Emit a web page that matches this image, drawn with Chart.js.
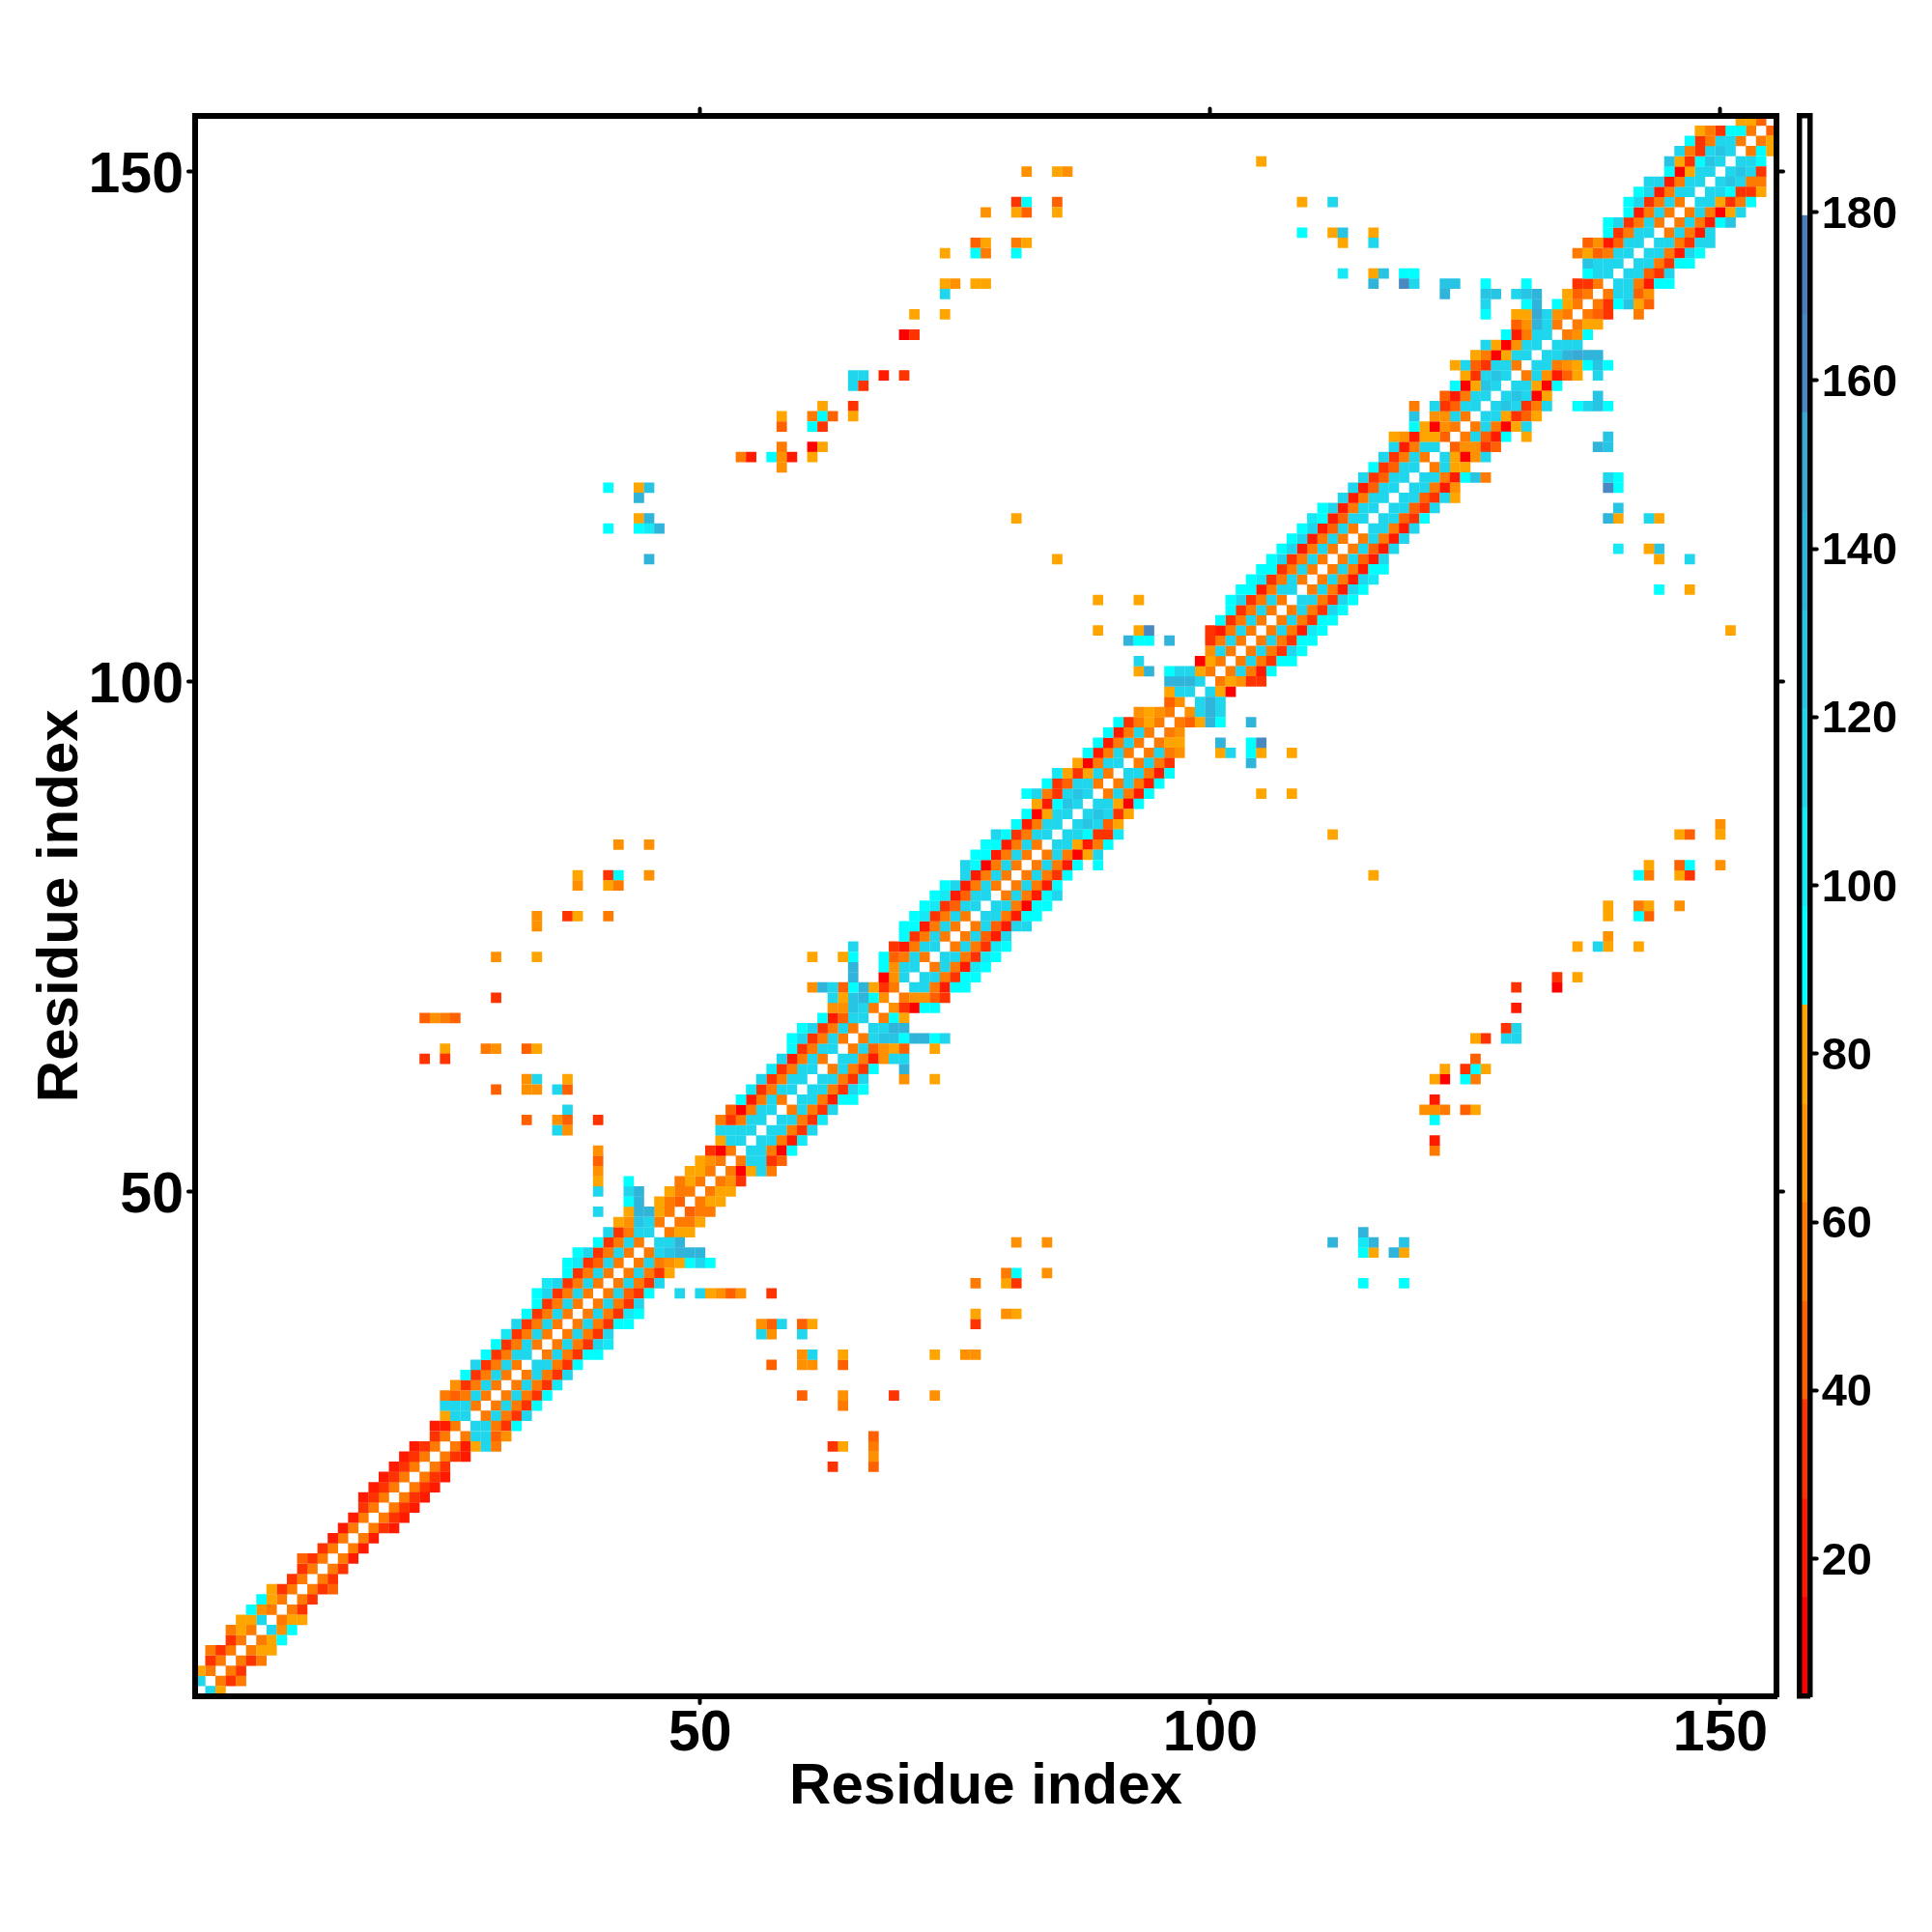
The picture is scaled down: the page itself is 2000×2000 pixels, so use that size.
<!DOCTYPE html>
<html>
<head>
<meta charset="utf-8">
<script src="https://cdn.jsdelivr.net/npm/chart.js@4/dist/chart.umd.min.js"></script>
<style>
    html, body { margin: 0; padding: 0; background: #fff; }
    canvas { position: absolute; left: 0; top: 0; }
</style>
</head>
<body>
<canvas id="mapChart" width="2000" height="2000"></canvas>
<canvas id="barChart" width="2000" height="2000"></canvas>
<script>
// colour levels
const levelEdges = [3.65, 15.4, 27.1, 38.9, 50.6, 62.3, 74, 85.8, 97.5, 109.3, 121, 132.7, 144.4, 156.2, 167.9, 179.6, 191.5];
const levelColors = ['#ff0000', '#ff1a00', '#ff3300', '#ff6000', '#ff7a00', '#ff9000', '#ffa500', '#00ffff',
    '#14e9f5', '#20d6ec', '#28c4e4', '#30b4da', '#38a9d3', '#4a88c2', '#4a7ebb', '#ffffff'];

const mapTicks = [50, 100, 150];
const barTicks = [20, 40, 60, 80, 100, 120, 140, 160, 180];
const axisTitle = 'Residue index';
const numResidues = 155;

// value of (i, i+1), index 0 is residue 1
const sep1 = [
    115, 56, 56, 56, 56, 56, 115, 56, 56, 56,
    56, 56, 56, 56, 56, 56, 56, 56, 56, 56,
    56, 56, 56, 56, 56, 56, 115, 56, 56, 56,
    56, 56, 115, 56, 56, 56, 56, 56, 56, 56,
    56, 56, 56, 56, 115, 56, 56, 45, 56, 56,
    56, 56, 56, 115, 115, 115, 115, 56, 115, 115,
    115, 56, 115, 56, 56, 115, 56, 68, 56, 115,
    115, 56, 115, 56, 56, 56, 115, 115, 56, 56,
    56, 56, 56, 115, 115, 115, 115, 115, 56, 56,
    115, 56, 56, 56, 56, 56, 68, 115, 115, 56,
    56, 56, 56, 56, 56, 56, 56, 115, 56, 56,
    56, 56, 56, 56, 115, 115, 115, 115, 115, 115,
    56, 115, 45, 56, 56, 115, 115, 115, 115, 56,
    115, 115, 115, 56, 56, 56, 56, 56, 115, 115,
    115, 115, 115, 56, 56, 56, 115, 115, 115, 115,
    115, 56, 56, 45];

// value of (i, i+2)
const sep2 = [
    80, 33, 33, 33, 80, 80, 68, 80, 33, 33,
    33, 33, 33, 21, 21, 21, 33, 33, 33, 33,
    33, 33, 33, 33, 21, 115, 115, 115, 115, 115,
    115, 115, 115, 115, 115, 115, 115, 115, 115, 115,
    115, 115, 115, 115, 115, 80, 56, 56, 80, 80,
    68, 10, 115, 115, 115, 115, 115, 115, 115, 115,
    115, 115, 115, 115, 115, 115, 92, 33, 68, 115,
    115, 115, 115, 115, 115, 115, 115, 115, 115, 115,
    115, 115, 115, 115, 115, 127, 127, 115, 115, 115,
    115, 115, 115, 80, 68, 45, 115, 138, 80, 80,
    115, 115, 115, 115, 115, 115, 115, 115, 115, 115,
    115, 115, 115, 115, 115, 115, 115, 115, 115, 115,
    115, 80, 68, 115, 115, 115, 127, 127, 115, 115,
    115, 115, 115, 68, 80, 45, 33, 115, 115, 115,
    115, 115, 115, 115, 115, 115, 115, 115, 127, 127,
    115, 92, 80];

// value of (i, i+3)
const sep3 = [
    null, 56, null, 56, 80, 92, 92, 80, null, null,
    45, null, null, null, null, null, 21, 21, 21, 21,
    21, 21, null, 21, 80, 115, 56, 56, 56, 56,
    56, 56, 56, 56, 56, 56, 56, 56, 56, 45,
    56, 56, 56, 127, 138, 80, 80, 56, 80, 80,
    33, 80, 115, 56, 56, 56, 56, 56, 56, 56,
    56, 56, 56, 45, 127, 138, 80, 10, 68, 56,
    56, 56, 56, 56, 45, 45, 56, 56, 56, 56,
    56, 56, 56, 80, 92, 115, 115, 80, 56, 56,
    56, 56, 56, 80, null, 80, 138, 115, 10, 68,
    56, 56, 56, 56, 56, 56, 56, 56, 56, 56,
    56, 45, 45, 56, 56, 45, 45, 45, 56, 56,
    80, 10, 68, 45, 56, 80, 115, 115, 80, 68,
    56, 138, 115, 92, 80, 33, 92, 115, 56, 45,
    56, 56, 56, 56, 56, 56, 80, 92, 115, 115,
    92, 80];

// value of (i, i+4)
const sep4 = [
    null, null, null, null, null, null, null, null, null, null,
    null, null, null, null, null, null, null, null, null, null,
    null, null, null, null, 115, 45, 33, 33, 33, 33,
    33, 33, 33, 33, 33, 33, 33, 33, 33, 33,
    33, 33, 68, 138, null, null, null, null, null, null,
    null, 115, 33, 10, 21, 33, 33, 33, 21, 33,
    33, 33, 21, 68, 127, 138, null, 92, 45, 21,
    33, 21, 33, 33, 21, 21, 21, 10, 21, 21,
    33, 21, 10, 21, 33, 45, 33, 10, 21, 21,
    21, 33, 68, null, null, 138, 115, null, null, 33,
    21, 33, 33, 33, 21, 33, 33, 33, 21, 21,
    21, 21, 21, 21, 21, 33, 33, 33, 21, 21,
    80, 68, 33, 21, 10, 33, 33, 10, 10, 21,
    68, 150, null, null, null, null, 127, 45, 21, 33,
    33, 21, 33, 21, 21, 10, 33, 33, 56, 33];

// value of (i, i+5)
const sep5 = [
    null, null, null, null, null, null, null, null, null, null,
    null, null, null, null, null, null, null, null, null, null,
    null, null, null, null, 56, 68, 92, 115, 92, 92,
    103, 115, 92, 92, 115, 115, 92, 103, 115, 92,
    115, 80, 80, 138, null, null, null, null, null, null,
    null, 56, 45, 92, 103, 115, 103, 115, 92, 115,
    115, 92, 68, 80, 92, null, null, 92, 33, 92,
    92, 103, 103, 103, 115, 115, 92, 92, 92, 92,
    92, 92, 80, 56, 33, 80, 80, 92, 92, 92,
    92, null, null, null, null, 92, null, null, null, 33,
    92, 92, 115, 92, 103, 92, 115, 115, 115, 115,
    92, 115, 115, 115, 115, 92, 115, 115, 68, 92,
    null, 115, 45, 92, 80, 45, 56, 80, 92, 45,
    80, 138, null, null, null, null, 80, 68, 92, 115,
    92, 115, 115, 115, 92, 80, 56, 33, 56];

// contacts further from the diagonal, one (farI, farJ, farV) per cell
const farI = [
    34, 35, 37, 38, 43, 44, 59, 60, 63, 64,
    65, 70, 71, 72, 73, 74, 76, 77, 78, 79,
    83, 84, 85, 102, 103, 104, 105, 106, 107, 108,
    109, 110, 111, 118, 120, 125, 126, 127, 130, 131,
    132, 136, 137, 139, 141, 142, 143, 145, 146, 147,
    148,
    40, 40, 40, 40, 40, 40, 40, 43, 43, 65,
    65, 65, 82, 120, 124, 61, 61, 62, 63, 64,
    92, 93, 93, 93, 93, 93, 94, 94, 94, 89,
    89, 96, 85, 81, 130, 131, 131,
    42, 45, 38, 41, 42, 45, 38, 41, 42, 34,
    37, 38, 41, 34, 30, 34, 30, 23, 24, 25,
    26, 25, 29, 30, 33, 34, 23, 25, 33, 34,
    37, 30, 33, 34, 36, 37, 37, 33, 36, 37,
    36, 37,
    105, 109, 112, 109, 112, 113, 116, 113, 116, 113,
    116, 117, 119, 120, 116, 119, 120, 123, 124, 123,
    127, 127, 128, 127, 127,
    82, 85, 86, 81, 82, 85, 78, 81, 82, 85,
    77, 78, 81, 82, 74, 77, 78, 81, 74, 75,
    77, 78, 74, 71, 74, 70, 71, 65, 66, 68,
    70, 65, 66, 62, 65, 58, 61, 62, 63, 65,
    58, 61, 62, 58, 61, 62, 54, 55, 57, 58,
    59, 61, 58, 41, 44, 45, 44, 44, 45, 41,
    44, 45, 46, 45];
const farJ = [
    40, 41, 43, 44, 49, 50, 65, 66, 69, 70,
    71, 76, 77, 78, 79, 80, 82, 83, 84, 85,
    89, 90, 91, 108, 109, 110, 111, 112, 113, 114,
    115, 116, 117, 124, 126, 131, 132, 133, 136, 137,
    138, 142, 143, 145, 147, 148, 149, 151, 152, 153,
    154,
    48, 50, 51, 52, 53, 54, 57, 50, 51, 72,
    73, 74, 89, 127, 131, 70, 73, 70, 70, 73,
    104, 101, 102, 104, 105, 108, 101, 104, 105, 105,
    108, 104, 112, 116, 138, 138, 139,
    84, 84, 81, 81, 81, 81, 80, 80, 80, 77,
    77, 77, 77, 76, 73, 73, 69, 67, 67, 67,
    67, 64, 64, 64, 64, 64, 63, 63, 61, 61,
    61, 60, 60, 60, 60, 60, 58, 57, 57, 57,
    56, 56,
    151, 147, 147, 144, 144, 144, 144, 143, 143, 140,
    140, 140, 140, 140, 139, 139, 139, 139, 139, 138,
    139, 138, 138, 137, 136,
    150, 150, 150, 147, 147, 147, 146, 146, 146, 146,
    143, 143, 143, 143, 142, 142, 142, 142, 139, 139,
    139, 139, 138, 136, 136, 134, 134, 130, 130, 130,
    130, 129, 129, 127, 127, 126, 126, 126, 126, 126,
    125, 125, 125, 123, 123, 123, 122, 122, 122, 122,
    122, 122, 121, 119, 119, 119, 118, 116, 116, 115,
    115, 115, 115, 112];
const farV = [
    92, 103, 92, 92, 92, 138, 92, 92, 115, 45,
    138, 92, 92, 92, 92, 92, 115, 92, 92, 115,
    115, 92, 103, 92, 92, 92, 92, 92, 92, 92,
    92, 103, 92, 80, 127, 115, 80, 115, 80, 92,
    138, 56, 45, 92, 92, 92, 115, 127, 115, 92,
    80,
    115, 115, 80, 68, 45, 68, 33, 115, 92, 138,
    92, 115, 92, 56, 80, 68, 80, 138, 115, 80,
    138, 80, 115, 92, 80, 80, 138, 92, 162, 80,
    80, 138, 80, 80, 115, 127, 92,
    68, 68, 80, 33, 92, 68, 68, 80, 56, 68,
    33, 80, 56, 68, 68, 80, 33, 45, 68, 56,
    45, 80, 56, 68, 45, 80, 33, 33, 68, 115,
    80, 45, 68, 68, 115, 45, 115, 45, 68, 45,
    115, 68,
    80, 80, 115, 92, 80, 127, 80, 80, 115, 103,
    80, 127, 92, 92, 138, 162, 115, 127, 127, 138,
    92, 127, 127, 115, 92,
    68, 80, 68, 33, 92, 45, 68, 80, 45, 80,
    45, 80, 56, 80, 80, 92, 56, 92, 80, 68,
    80, 80, 115, 80, 80, 10, 33, 115, 115, 21,
    33, 115, 33, 80, 33, 80, 56, 92, 45, 80,
    45, 92, 33, 56, 10, 80, 56, 21, 92, 68,
    21, 80, 68, 92, 80, 127, 138, 80, 138, 92,
    92, 103, 138, 138];

function levelOf(v) {
    for (let n = 0; n < levelColors.length; n++) {
        if (v < levelEdges[n + 1]) return levelColors[n];
    }
    return levelColors[levelColors.length - 1];
}

// the matrix is symmetric, every contact goes in on both sides of the diagonal
const cells = [];
function addCell(i, j, v) {
    cells.push({x: i, y: j, v: v});
    cells.push({x: j, y: i, v: v});
}
[sep1, sep2, sep3, sep4, sep5].forEach(function (band, k) {
    band.forEach(function (v, idx) {
        if (v !== null) addCell(idx + 1, idx + 1 + (k + 1), v);
    });
});
farI.forEach(function (i, idx) {
    addCell(i, farJ[idx], farV[idx]);
});

const BLACK = '#000000';
const labelFont = 'Liberation Sans';

function fixedWidth(w) {
    return function (scale) { scale.width = w; };
}
function fixedHeight(h) {
    return function (scale) { scale.height = h; };
}
function setTicks(values) {
    return function (scale) { scale.ticks = values.map(function (v) { return {value: v}; }); };
}

// tick marks are round, the frame drawn after the cells stays square
const lineCaps = {
    id: 'lineCaps',
    beforeDraw: function (chart) { chart.ctx.lineCap = 'round'; },
    afterDatasetsDraw: function (chart) { chart.ctx.lineCap = 'butt'; }
};

function mapAxis(position, showLabels) {
    const horizontal = position === 'top' || position === 'bottom';
    const axis = {
        type: 'linear',
        position: position,
        min: 0.5,
        max: numResidues + 0.5,
        afterBuildTicks: setTicks(mapTicks),
        border: {display: true, color: BLACK, width: 6, z: 1},
        grid: {drawOnChartArea: false, drawTicks: true, tickLength: 7, tickWidth: 4, tickColor: BLACK},
        ticks: {
            display: showLabels,
            padding: horizontal ? -3 : 5,
            labelOffset: horizontal ? 0 : 5,
            color: BLACK,
            maxRotation: 0,
            autoSkip: false,
            font: {family: labelFont, weight: 'bold', size: 59}
        }
    };
    if (position === 'bottom') axis.afterFit = fixedHeight(2000 - 1756);
    if (position === 'top') axis.afterFit = fixedHeight(119.5);
    if (position === 'left') axis.afterFit = fixedWidth(202);
    if (position === 'right') axis.afterFit = fixedWidth(2000 - 1839);
    if (showLabels) {
        axis.title = {
            display: true,
            text: axisTitle,
            color: BLACK,
            font: {family: labelFont, weight: 'bold', size: 60},
            padding: position === 'bottom' ? {bottom: 114, top: 0} : {top: 27, bottom: 0}
        };
    }
    return axis;
}

new Chart(document.getElementById('mapChart').getContext('2d'), {
    type: 'scatter',
    data: {
        datasets: [{
            data: cells,
            pointStyle: 'rect',
            pointBorderWidth: 0,
            pointRadius: function (ctx) {
                const xs = ctx.chart.scales.x;
                return (Math.abs(xs.getPixelForValue(1) - xs.getPixelForValue(0)) + 0.2) * Math.SQRT1_2;
            },
            backgroundColor: function (ctx) { return ctx.raw ? levelOf(ctx.raw.v) : BLACK; }
        }]
    },
    plugins: [lineCaps],
    options: {
        responsive: false,
        animation: false,
        devicePixelRatio: 1,
        events: [],
        plugins: {legend: {display: false}, tooltip: {enabled: false}},
        scales: {
            x: mapAxis('bottom', true),
            y: mapAxis('left', true),
            x2: mapAxis('top', false),
            y2: mapAxis('right', false)
        }
    }
});

// colour bar, one floating bar per level
const barSets = levelColors.map(function (c, n) {
    return {
        data: [[levelEdges[n], levelEdges[n + 1]]],
        backgroundColor: c,
        borderWidth: 0,
        barPercentage: 1,
        categoryPercentage: 1,
        grouped: false
    };
});

const plainBorder = {display: true, color: BLACK, width: 5.5, z: 1};

new Chart(document.getElementById('barChart').getContext('2d'), {
    type: 'bar',
    data: {labels: [''], datasets: barSets},
    plugins: [lineCaps],
    options: {
        responsive: false,
        animation: false,
        devicePixelRatio: 1,
        events: [],
        plugins: {legend: {display: false}, tooltip: {enabled: false}},
        scales: {
            x: {
                position: 'bottom',
                border: plainBorder,
                grid: {display: false},
                ticks: {display: false},
                afterFit: fixedHeight(2000 - 1756)
            },
            xTop: {
                type: 'linear',
                position: 'top',
                min: 0,
                max: 1,
                border: plainBorder,
                grid: {display: false},
                ticks: {display: false},
                afterFit: fixedHeight(119.5)
            },
            yLeft: {
                type: 'linear',
                position: 'left',
                min: levelEdges[0],
                max: levelEdges[levelEdges.length - 1],
                border: plainBorder,
                grid: {display: false},
                ticks: {display: false},
                afterFit: fixedWidth(1862.7)
            },
            y: {
                type: 'linear',
                position: 'right',
                min: levelEdges[0],
                max: levelEdges[levelEdges.length - 1],
                afterBuildTicks: setTicks(barTicks),
                border: plainBorder,
                grid: {drawOnChartArea: false, drawTicks: true, tickLength: 7, tickWidth: 4, tickColor: BLACK},
                ticks: {
                    display: true,
                    padding: 5,
                    labelOffset: 3,
                    color: BLACK,
                    autoSkip: false,
                    font: {family: labelFont, weight: 'bold', size: 47}
                },
                afterFit: fixedWidth(2000 - 1873.7)
            }
        }
    }
});
</script>
</body>
</html>
